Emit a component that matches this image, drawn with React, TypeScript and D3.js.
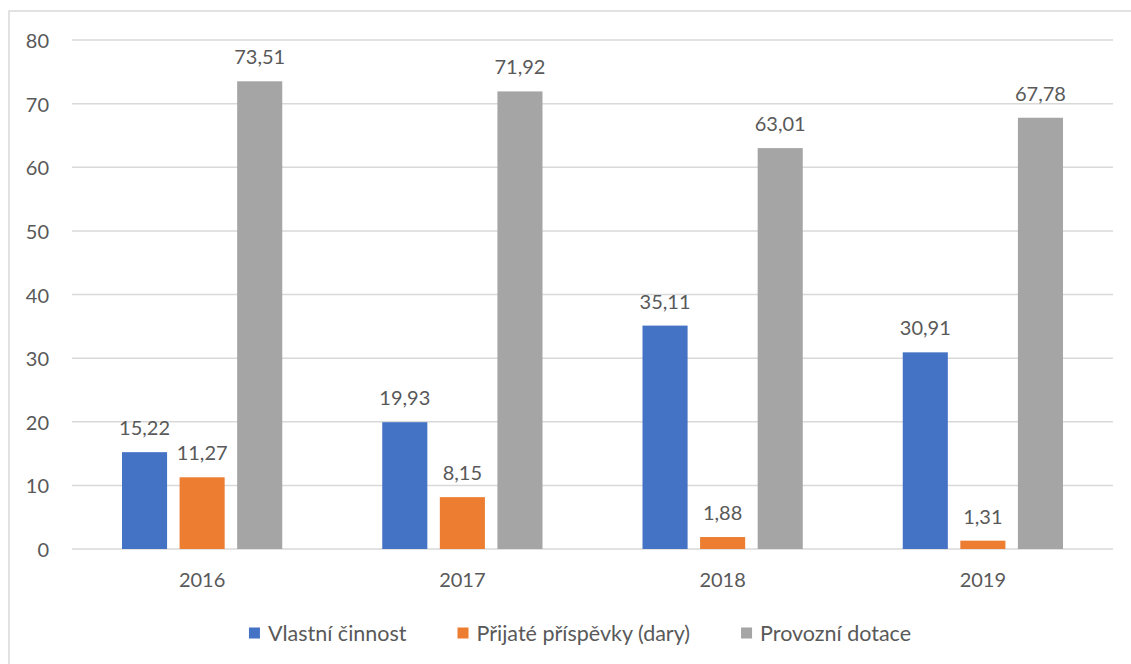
import { useEffect, useRef, useState } from "react";
import * as d3 from "d3";

const WIDTH = 1131;
const HEIGHT = 664;
const MARGIN = { top: 40, right: 18, bottom: 115, left: 72 };

const YEARS = ["2016", "2017", "2018", "2019"];
const SERIES = ["Vlastní činnost", "Přijaté příspěvky (dary)", "Provozní dotace"];
const COLORS = ["#4472c4", "#ed7d31", "#a5a5a5"];
const VLASTNI = [15.22, 19.93, 35.11, 30.91];
const DARY = [11.27, 8.15, 1.88, 1.31];
const DOTACE = [73.51, 71.92, 63.01, 67.78];
const Y_TICKS = [0, 10, 20, 30, 40, 50, 60, 70, 80];

const FONT = "Lato, 'Open Sans', sans-serif";
const TEXT_COLOR = "#595959";
const GRID_COLOR = "#d9d9d9";

const czech = d3.formatLocale({
  decimal: ",",
  thousands: " ",
  grouping: [3],
  currency: ["", " Kč"],
});
const fmt = czech.format(".2f");

export default function App() {
  const values = [VLASTNI, DARY, DOTACE];
  const boundsWidth = WIDTH - MARGIN.left - MARGIN.right;
  const boundsHeight = HEIGHT - MARGIN.top - MARGIN.bottom;

  const xScale = d3.scaleBand().domain(YEARS).range([0, boundsWidth]);
  const groupPad = 50;
  const inner = d3
    .scaleBand()
    .domain(SERIES)
    .range([groupPad, xScale.bandwidth() - groupPad])
    .paddingInner(0.217);
  const yScale = d3.scaleLinear().domain([0, 80]).range([boundsHeight, 0]);

  // legend layout measured after first render
  const legendRef = useRef<SVGGElement>(null);
  const [widths, setWidths] = useState<number[]>(SERIES.map(() => 150));
  useEffect(() => {
    if (!legendRef.current) return;
    const texts = legendRef.current.querySelectorAll("text");
    setWidths(Array.from(texts).map((t) => (t as SVGTextElement).getComputedTextLength()));
  }, []);

  const swatch = 11;
  const swGap = 8;
  const entryGap = 51;
  const totalLegend =
    d3.sum(widths) + SERIES.length * (swatch + swGap) + entryGap * (SERIES.length - 1);
  let cursor = 580 - totalLegend / 2;
  const legendX = widths.map((w) => {
    const x = cursor;
    cursor += swatch + swGap + w + entryGap;
    return x;
  });

  return (
    <svg
      width={WIDTH}
      height={HEIGHT}
      style={{ position: "absolute", left: 0, top: 0, background: "#fff" }}
      fontFamily={FONT}
    >
      <rect x={9} y={11} width={1150} height={680} fill="#fff" stroke={GRID_COLOR} strokeWidth={1.5} />
      <g transform={`translate(${MARGIN.left},${MARGIN.top})`}>
        {Y_TICKS.map((t) => (
          <g key={t}>
            <line
              x1={0}
              x2={boundsWidth}
              y1={yScale(t)}
              y2={yScale(t)}
              stroke={GRID_COLOR}
              strokeWidth={1.5}
            />
            <text
              x={-23}
              y={yScale(t)}
              textAnchor="end"
              dominantBaseline="central"
              fontSize={20}
              fill={TEXT_COLOR}
            >
              {t}
            </text>
          </g>
        ))}
        {YEARS.map((year, i) => (
          <g key={year} transform={`translate(${xScale(year)},0)`}>
            {SERIES.map((s, j) => {
              const v = values[j][i];
              const x = inner(s) ?? 0;
              return (
                <g key={s}>
                  <rect
                    x={x}
                    y={yScale(v)}
                    width={inner.bandwidth()}
                    height={boundsHeight - yScale(v)}
                    fill={COLORS[j]}
                  />
                  <text
                    x={x + inner.bandwidth() / 2}
                    y={yScale(v) - 17}
                    textAnchor="middle"
                    fontSize={20}
                    fill={TEXT_COLOR}
                  >
                    {fmt(v)}
                  </text>
                </g>
              );
            })}
            <text
              x={xScale.bandwidth() / 2}
              y={boundsHeight + 38}
              textAnchor="middle"
              fontSize={20}
              fill={TEXT_COLOR}
            >
              {year}
            </text>
          </g>
        ))}
      </g>
      <g ref={legendRef}>
        {SERIES.map((s, j) => (
          <g key={s} transform={`translate(${legendX[j]},633)`}>
            <rect x={0} y={-5.5} width={swatch} height={swatch} fill={COLORS[j]} />
            <text
              x={swatch + swGap}
              y={0}
              dominantBaseline="central"
              fontSize={21.5}
              fill={TEXT_COLOR}
            >
              {s}
            </text>
          </g>
        ))}
      </g>
    </svg>
  );
}
